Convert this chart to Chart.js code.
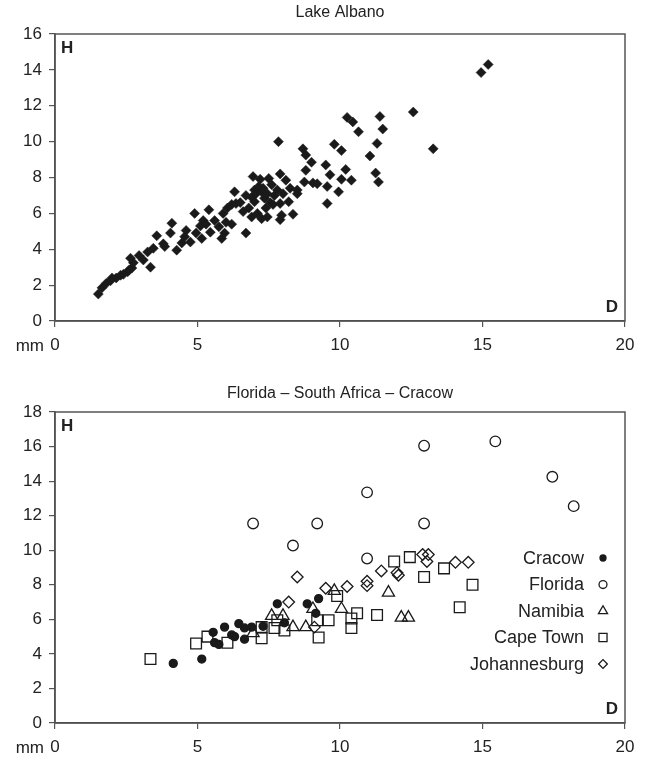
<!DOCTYPE html>
<html>
<head>
<meta charset="utf-8">
<script src="https://cdn.jsdelivr.net/npm/chart.js@4.4.0/dist/chart.umd.min.js"></script>
<style>
  body { margin: 0; background: #fff; }
  canvas { position: absolute; left: 0; }
  #graficoAlbano { top: 0; }
  #graficoSur { top: 380px; }
</style>
</head>
<body>
<canvas id="graficoAlbano" width="649" height="380"></canvas>
<canvas id="graficoSur" width="649" height="380"></canvas>
<script>
// Datos: [D, H] en mm
const lakeAlbano = [
  [1.52, 1.5], [1.65, 1.85], [1.8, 2.1], [1.95, 2.25], [2.0, 2.4], [2.15, 2.4], [2.3, 2.55],
  [2.4, 2.6], [2.55, 2.75], [2.6, 2.85], [2.7, 2.95], [2.75, 3.25], [2.65, 3.5], [2.95, 3.65],
  [3.1, 3.4], [3.35, 3.0], [3.25, 3.85], [3.45, 4.05], [3.57, 4.75], [3.8, 4.3], [3.85, 4.15],
  [4.05, 4.9], [4.1, 5.45], [4.27, 3.95], [4.45, 4.35], [4.55, 4.7], [4.6, 5.05], [4.75, 4.4],
  [4.9, 6.0], [4.95, 4.9], [5.1, 5.3], [5.15, 4.6], [5.2, 5.6], [5.3, 5.4], [5.4, 6.2],
  [5.45, 4.95], [5.6, 5.6], [5.75, 5.25], [5.85, 4.6], [5.9, 6.0], [5.95, 4.9], [6.0, 5.5],
  [6.05, 6.3], [6.2, 6.5], [6.2, 5.4], [6.3, 7.2], [6.35, 6.55], [6.5, 6.6], [6.6, 6.1],
  [6.7, 7.0], [6.7, 4.9], [6.8, 6.3], [6.9, 5.8], [6.9, 6.9], [6.95, 8.05], [7.0, 6.65],
  [7.0, 7.3], [7.05, 7.1], [7.1, 6.0], [7.15, 7.5], [7.2, 7.9], [7.25, 5.7], [7.25, 7.2],
  [7.3, 7.4], [7.35, 6.85], [7.4, 6.3], [7.45, 7.1], [7.45, 5.8], [7.5, 7.95], [7.55, 6.6],
  [7.6, 7.6], [7.65, 6.5], [7.7, 7.0], [7.8, 7.3], [7.84, 10.0], [7.9, 8.2], [7.9, 5.65],
  [7.9, 6.55], [7.95, 5.9], [8.0, 7.1], [8.1, 7.85], [8.2, 6.65], [8.25, 7.4], [8.35, 5.95],
  [8.5, 7.3], [8.5, 7.1], [8.7, 9.6], [8.8, 9.25], [8.8, 8.4], [8.75, 7.75], [9.0, 8.85],
  [9.05, 7.7], [9.2, 7.65], [9.5, 8.7], [9.55, 7.5], [9.55, 6.55], [9.65, 8.15], [9.8, 9.85],
  [9.95, 7.2], [10.05, 9.5], [10.05, 7.9], [10.2, 8.45], [10.25, 11.35], [10.4, 7.85],
  [10.45, 11.1], [10.65, 10.55], [11.05, 9.2], [11.25, 8.25], [11.3, 9.9], [11.35, 7.75],
  [11.4, 11.4], [11.5, 10.7], [12.57, 11.65], [13.27, 9.6], [14.95, 13.85], [15.2, 14.3]
];

const cracow = [
  [4.15, 3.45], [5.15, 3.7], [5.55, 5.25], [5.6, 4.65], [5.75, 4.55], [5.95, 5.55], [6.2, 5.1],
  [6.3, 5.0], [6.45, 5.75], [6.65, 5.5], [6.65, 4.85], [6.9, 5.55], [7.3, 5.6], [7.8, 6.9],
  [8.05, 5.8], [8.85, 6.9], [9.25, 7.2], [9.15, 6.35]
];
const florida = [
  [6.95, 11.55], [8.35, 10.27], [9.2, 11.55], [10.95, 13.35], [10.95, 9.52], [12.95, 16.05],
  [12.95, 11.55], [15.45, 16.3], [17.45, 14.25], [18.2, 12.55]
];
const namibia = [
  [6.95, 5.2], [7.6, 6.2], [8.0, 6.2], [8.35, 5.55], [8.8, 5.55], [9.05, 6.6], [9.8, 7.65],
  [10.05, 6.6], [11.7, 7.55], [12.15, 6.1], [12.4, 6.1]
];
const capeTown = [
  [3.35, 3.7], [4.95, 4.6], [5.35, 5.0], [6.05, 4.65], [7.25, 5.55], [7.25, 4.9], [7.7, 5.5],
  [7.8, 5.95], [8.05, 5.35], [9.2, 5.95], [9.25, 4.95], [9.6, 5.95], [9.9, 7.35], [10.4, 6.05],
  [10.4, 5.5], [10.6, 6.35], [11.3, 6.25], [11.9, 9.35], [12.45, 9.6], [12.95, 8.45],
  [13.65, 8.95], [14.2, 6.7], [14.65, 8.0]
];
const johannesburg = [
  [8.2, 7.0], [8.5, 8.45], [9.1, 5.55], [9.5, 7.8], [10.25, 7.9], [10.95, 8.2], [10.95, 7.95],
  [11.45, 8.8], [12.0, 8.7], [12.05, 8.55], [12.9, 9.75], [13.1, 9.75], [13.05, 9.35],
  [14.05, 9.3], [14.5, 9.3]
];

// Etiquetas de los ejes
const ticksX = [0, 5, 10, 15, 20];
const ticksYAlbano = [0, 2, 4, 6, 8, 10, 12, 14, 16];
const ticksYSur = [0, 2, 4, 6, 8, 10, 12, 14, 16, 18];

const tinta = '#222';
const fuente = 'Liberation Sans, Arial, sans-serif';

const aPuntos = arr => arr.map(p => ({ x: p[0], y: p[1] }));

// Título centrado sobre el área del gráfico, marco, letras H / D y "mm"
const pluginMarco = {
  id: 'marco',
  afterDraw(chart, args, opts) {
    const { ctx, chartArea: a } = chart;
    ctx.save();
    ctx.fillStyle = tinta;
    ctx.font = '16px ' + fuente;
    ctx.textAlign = 'center';
    ctx.textBaseline = 'middle';
    ctx.fillText(opts.titulo, (a.left + a.right) / 2, opts.tituloY);

    ctx.strokeStyle = '#555';
    ctx.lineWidth = 1.5;
    ctx.strokeRect(a.left, a.top, a.right - a.left, a.bottom - a.top);
    ctx.font = 'bold 17px ' + fuente;
    ctx.textAlign = 'left';
    ctx.textBaseline = 'top';
    ctx.fillText('H', a.left + 6, a.top + 6);
    ctx.textAlign = 'right';
    ctx.textBaseline = 'bottom';
    ctx.fillText('D', a.right - 7, a.bottom - 5);
    ctx.font = '17px ' + fuente;
    ctx.textBaseline = 'middle';
    ctx.fillText('mm', a.left - 11, a.bottom + 25);
    ctx.restore();
  }
};

// Leyenda dentro del área, texto a la izquierda del símbolo
const pluginLeyenda = {
  id: 'leyendaDerecha',
  afterDraw(chart) {
    const { ctx, chartArea: a } = chart;
    ctx.save();
    ctx.font = '18px ' + fuente;
    ctx.fillStyle = tinta;
    ctx.textAlign = 'right';
    ctx.textBaseline = 'middle';
    chart.data.datasets.forEach((ds, i) => {
      const y = a.top + 146 + i * 26.5;
      ctx.fillText(ds.label, a.right - 41, y + 1);
      ctx.strokeStyle = ds.borderColor;
      ctx.fillStyle = ds.backgroundColor;
      ctx.lineWidth = 1.3;
      Chart.helpers.drawPoint(ctx, { pointStyle: ds.pointStyle, radius: ds.pointRadius * 0.75, rotation: 0, borderWidth: 1.3 }, a.right - 22, y);
      ctx.fillStyle = tinta;
    });
    ctx.restore();
  }
};

function opcionesEjes(ticksY, maxY, altoX) {
  return {
    x: {
      type: 'linear', min: 0, max: 20,
      afterBuildTicks: s => { s.ticks = ticksX.map(v => ({ value: v })); },
      afterFit: s => { s.height = altoX; },
      grid: { drawOnChartArea: false, drawTicks: true, tickLength: 6, color: '#555', lineWidth: 1.2 },
      border: { display: true, color: '#444', width: 1.5 },
      ticks: { color: tinta, font: { family: fuente, size: 17 }, padding: 8, maxRotation: 0 }
    },
    y: {
      type: 'linear', min: 0, max: maxY,
      afterBuildTicks: s => { s.ticks = ticksY.map(v => ({ value: v })); },
      afterFit: s => { s.width = 55; },
      grid: { drawOnChartArea: false, drawTicks: true, tickLength: 6, color: '#555', lineWidth: 1.2 },
      border: { display: true, color: '#444', width: 1.5 },
      ticks: { color: tinta, font: { family: fuente, size: 17 }, padding: 7 }
    }
  };
}

// Gráfico superior: Lake Albano
new Chart(document.getElementById('graficoAlbano').getContext('2d'), {
  type: 'scatter',
  data: {
    datasets: [{
      label: 'Lake Albano',
      data: aPuntos(lakeAlbano),
      pointStyle: 'rectRot',
      pointRadius: 5,
      backgroundColor: '#1a1a1a',
      borderColor: '#1a1a1a',
      borderWidth: 0.5
    }]
  },
  options: {
    responsive: false,
    animation: false,
    layout: { padding: { left: 0, right: 24, top: 34, bottom: 0 } },
    plugins: {
      legend: { display: false },
      tooltip: { enabled: false },
      marco: { titulo: 'Lake Albano', tituloY: 13 }
    },
    scales: opcionesEjes(ticksYAlbano, 16, 59)
  },
  plugins: [pluginMarco]
});

// Gráfico inferior: Florida – South Africa – Cracow
const estiloSerie = (label, datos, estilo, radio, relleno) => ({
  label: label,
  data: aPuntos(datos),
  pointStyle: estilo,
  pointRadius: radio,
  backgroundColor: relleno,
  borderColor: '#1a1a1a',
  borderWidth: 1.3
});

new Chart(document.getElementById('graficoSur').getContext('2d'), {
  type: 'scatter',
  data: {
    datasets: [
      estiloSerie('Cracow', cracow, 'circle', 4, '#1a1a1a'),
      estiloSerie('Florida', florida, 'circle', 5.3, 'rgba(255,255,255,0)'),
      estiloSerie('Namibia', namibia, 'triangle', 7, 'rgba(255,255,255,0)'),
      estiloSerie('Cape Town', capeTown, 'rect', 7.6, 'rgba(255,255,255,0)'),
      estiloSerie('Johannesburg', johannesburg, 'rectRot', 5.8, 'rgba(255,255,255,0)')
    ]
  },
  options: {
    responsive: false,
    animation: false,
    layout: { padding: { left: 0, right: 24, top: 32, bottom: 0 } },
    plugins: {
      legend: { display: false },
      tooltip: { enabled: false },
      marco: { titulo: 'Florida \u2013 South Africa \u2013 Cracow', tituloY: 14 }
    },
    scales: opcionesEjes(ticksYSur, 18, 37)
  },
  plugins: [pluginMarco, pluginLeyenda]
});
</script>
</body>
</html>
